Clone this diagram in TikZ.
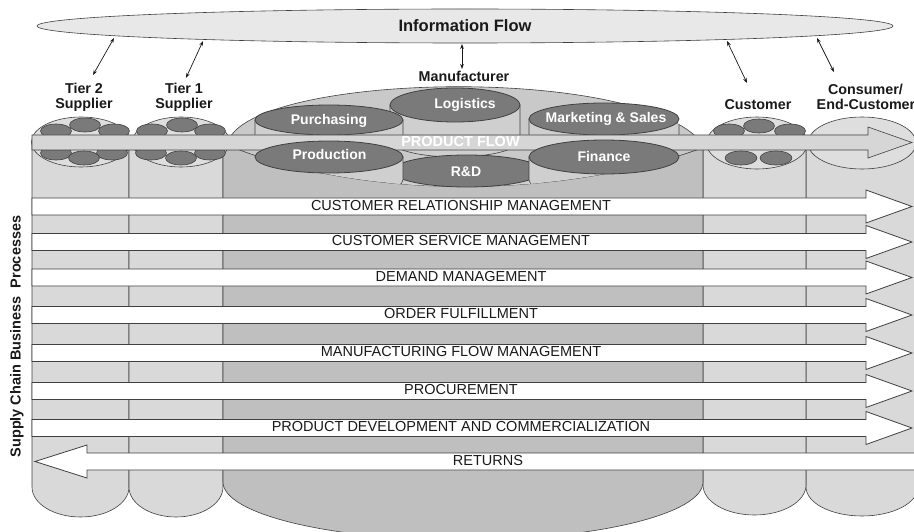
\documentclass[tikz,border=0pt]{standalone}
\usepackage{fontspec}
\setmainfont{Liberation Sans}
\usetikzlibrary{arrows.meta}
\definecolor{edge}{gray}{0.25}
\definecolor{colLight}{gray}{0.85}
\definecolor{colMfg}{gray}{0.75}
\definecolor{mfgTop}{gray}{0.79}
\definecolor{deptBody}{gray}{0.81}
\definecolor{deptTop}{gray}{0.48}
\definecolor{bandGray}{gray}{0.84}
\definecolor{infoFill}{gray}{0.91}
\definecolor{capFill}{gray}{0.87}
\definecolor{txt}{gray}{0.1}
\newcommand\mfgclip{\clip (227,145) .. controls (240,72) and (650,62) .. (705,147) .. controls (560,200) and (360,200) .. (227,145) -- cycle;}
\begin{document}
\begin{tikzpicture}[x=1pt,y=-1pt,
  ln/.style={draw=edge, line width=0.6pt},
  colbody/.style={ln, fill=colLight},
  mfgbody/.style={ln, fill=colMfg},
  captop/.style={ln, fill=capFill},
  cell/.style={ln, fill=deptTop},
  deptbody/.style={ln, fill=deptBody},
  depttop/.style={ln, line width=0.8pt, fill=deptTop},
  procarrow/.style={ln, line width=0.8pt, fill=white},
  proctext/.style={font=\fontsize{14.5}{15}\selectfont, text=txt, inner sep=0pt, text height=0.716em, text depth=0pt},
  lbl/.style={font=\bfseries\fontsize{14.3}{15}\selectfont, text=txt, inner sep=0pt, text height=0.716em, text depth=0pt},
  deptlbl/.style={font=\bfseries\fontsize{14}{15}\selectfont, text=white, inner sep=0pt, text height=0.716em, text depth=0pt},
  biarrow/.style={{Stealth[length=5pt,width=3.6pt]}-{Stealth[length=5pt,width=3.6pt]}, draw=txt, line width=0.7pt}
]
\useasboundingbox (0,0) rectangle (914,532);

% ---------- information flow ----------
\path[ln, fill=infoFill] (465,26) ellipse[x radius=428pt, y radius=17pt];
\node[font=\bfseries\fontsize{16.5}{17}\selectfont, text=txt, inner sep=0pt, text height=0.716em, text depth=0pt] (info) at (465,27.5) {Information Flow};

% ---------- column bodies ----------
\path[colbody] (32,142) -- (32,487) arc[start angle=180,end angle=360,x radius=48.5pt,y radius=30pt] -- (129,142) -- cycle;
\path[colbody] (129,142) -- (129,487) arc[start angle=180,end angle=360,x radius=47pt,y radius=30pt] -- (223,142) -- cycle;
\path[colbody] (806,142) -- (806,487) arc[start angle=180,end angle=360,x radius=56pt,y radius=29pt] -- (918,142) -- cycle;
\path[colbody] (703,142) -- (703,485) arc[start angle=180,end angle=360,x radius=51.5pt,y radius=30pt] -- (806,142) -- cycle;
\path[mfgbody] (223,142) -- (223,482) arc[start angle=180,end angle=360,x radius=240pt,y radius=58pt] -- (703,142) -- cycle;

% ---------- column tops ----------
\path[captop] (81,142) ellipse[x radius=49.5pt, y radius=25pt];
\foreach \cx/\cy in {56/131, 114/131, 85/125} \path[cell] (\cx,\cy) ellipse[x radius=15.5pt, y radius=7pt];
\foreach \cx/\cy in {56/153, 112/153, 84/158} \path[cell] (\cx,\cy) ellipse[x radius=15.5pt, y radius=7pt];
\path[captop] (181,142) ellipse[x radius=48.5pt, y radius=25pt];
\foreach \cx/\cy in {152/131, 210/131, 182/125} \path[cell] (\cx,\cy) ellipse[x radius=15.5pt, y radius=7pt];
\foreach \cx/\cy in {151/153, 210/153, 181/158} \path[cell] (\cx,\cy) ellipse[x radius=15.5pt, y radius=7pt];
\path[captop] (862,143) ellipse[x radius=54pt, y radius=26pt];
\path[captop] (757,143) ellipse[x radius=50.5pt, y radius=26pt];
\foreach \cx/\cy in {729/131, 790/131, 759/126} \path[cell] (\cx,\cy) ellipse[x radius=15.5pt, y radius=7pt];
\foreach \cx/\cy in {741/158, 776/158} \path[cell] (\cx,\cy) ellipse[x radius=16pt, y radius=7pt];

% ---------- manufacturer cylinder ----------
\path[ln, fill=mfgTop] (227,145) .. controls (240,72) and (650,62) .. (705,147) .. controls (560,200) and (360,200) .. (227,145) -- cycle;
\begin{scope}\mfgclip
\path[deptbody] (390,105) -- (390,140) arc[start angle=180,end angle=360,x radius=65pt,y radius=17pt] -- (520,105) -- cycle;
\end{scope}
\path[depttop] (455,105) ellipse[x radius=65pt, y radius=17pt];
\begin{scope}\mfgclip
\path[deptbody] (255,120) -- (255,138) arc[start angle=180,end angle=360,x radius=74pt,y radius=15pt] -- (403,120) -- cycle;
\end{scope}
\path[depttop] (329,120) ellipse[x radius=74pt, y radius=15pt];
\begin{scope}\mfgclip
\path[deptbody] (529,119) -- (529,138) arc[start angle=180,end angle=360,x radius=75pt,y radius=16pt] -- (679,119) -- cycle;
\end{scope}
\path[depttop] (604,119) ellipse[x radius=75pt, y radius=16pt];

% ---------- product flow ----------
\path[ln, fill=bandGray] (32,135) -- (868,135) -- (868,127) -- (912,142.5) -- (868,158) -- (868,150) -- (32,150) -- cycle;

\begin{scope}\mfgclip
\path[deptbody] (392,171) -- (392,195) arc[start angle=180,end angle=360,x radius=75pt,y radius=16pt] -- (542,171) -- cycle;
\end{scope}
\path[depttop] (467,171) ellipse[x radius=75pt, y radius=16pt];
\begin{scope}\mfgclip
\path[deptbody] (255,157) -- (255,180) arc[start angle=180,end angle=360,x radius=74pt,y radius=16pt] -- (403,157) -- cycle;
\end{scope}
\path[depttop] (329,157) ellipse[x radius=74pt, y radius=16pt];
\begin{scope}\mfgclip
\path[deptbody] (529,157) -- (529,180) arc[start angle=180,end angle=360,x radius=75pt,y radius=17pt] -- (679,157) -- cycle;
\end{scope}
\path[depttop] (604,157) ellipse[x radius=75pt, y radius=17pt];

\node[deptlbl] (logi) at (465,105) {Logistics};
\node[deptlbl] (purch) at (329,121) {Purchasing};
\node[deptlbl] (mkt) at (606,119) {Marketing \& Sales};
\node[deptlbl] (prod) at (329.5,156) {Production};
\node[deptlbl] (rnd) at (466,173) {R\&D};
\node[deptlbl] (fin) at (604,157.5) {Finance};
\node[font=\bfseries\fontsize{14.5}{15}\selectfont, text=white, inner sep=0pt, text height=0.716em, text depth=0pt] (pflow) at (460.5,143) {PRODUCT FLOW};

% ---------- process arrows ----------
\foreach \y/\t [count=\i] in {206.5/CUSTOMER RELATIONSHIP MANAGEMENT, 242/CUSTOMER SERVICE MANAGEMENT, 277.5/DEMAND MANAGEMENT, 315/ORDER FULFILLMENT, 353/MANUFACTURING FLOW MANAGEMENT, 391/PROCUREMENT, 428/PRODUCT DEVELOPMENT AND COMMERCIALIZATION}{
  \path[procarrow] (32,\y-8.5) -- (866,\y-8.5) -- (866,\y-16.5) -- (912,\y) -- (866,\y+16.5) -- (866,\y+8.5) -- (32,\y+8.5) -- cycle;
  \node[proctext] (proc\i) at (461,\y) {\t};
}
\path[procarrow] (920,453) -- (87,453) -- (87,445) -- (35,461.5) -- (87,478) -- (87,470) -- (920,470) -- cycle;
\node[proctext] (ret) at (488,462) {RETURNS};

% ---------- labels ----------
\node[lbl] (t2a) at (84,90) {Tier 2};
\node[lbl] (t2b) at (84,105) {Supplier};
\node[lbl] (t1a) at (184,90) {Tier 1};
\node[lbl] (t1b) at (184,105) {Supplier};
\node[lbl] (mfg) at (464,78) {Manufacturer};
\node[lbl] (cust) at (758,105.5) {Customer};
\node[lbl] (consa) at (865.5,90.5) {Consumer/};
\node[lbl] (consb) at (866,105.5) {End-Customer};
\node[font=\bfseries\fontsize{14.5}{15}\selectfont, text=txt, inner sep=0pt, text height=0.716em, text depth=0pt, rotate=90] (scbp) at (17,336.5) {Supply Chain Business\ \ Processes};

% ---------- information arrows ----------
\coordinate (i2) at (114,38);  \coordinate (e2) at (93,75);
\coordinate (i1) at (203,41);  \coordinate (e1) at (186,78);
\coordinate (im) at (462,44);  \coordinate (em) at (462,69);
\coordinate (ic) at (727,41);  \coordinate (ec) at (747,83);
\coordinate (iz) at (817,38);  \coordinate (ez) at (834,72);
\draw[biarrow] (i2) -- (e2);
\draw[biarrow] (i1) -- (e1);
\draw[biarrow] (im) -- (em);
\draw[biarrow] (ic) -- (ec);
\draw[biarrow] (iz) -- (ez);
\end{tikzpicture}
\end{document}
